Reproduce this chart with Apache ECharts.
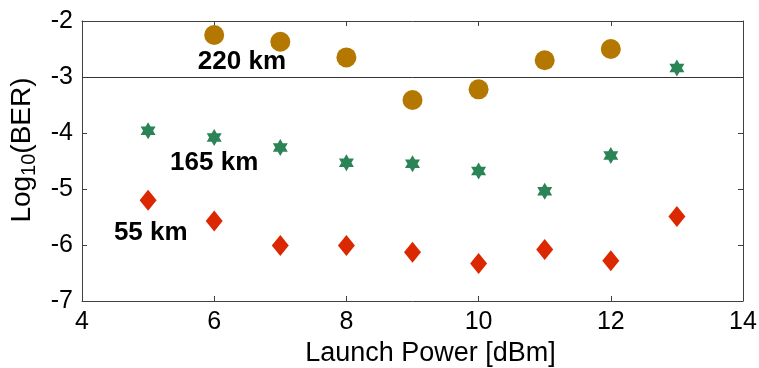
<!DOCTYPE html>
<html><head><meta charset="utf-8">
<script src="https://cdn.jsdelivr.net/npm/echarts@6/dist/echarts.min.js"></script>
<style>html,body{margin:0;padding:0;background:#fff}#c{width:759px;height:368px}</style>
</head><body><div id="c"></div>
<script>
const power220 = [6, 7, 8, 9, 10, 11, 12];
const ber220 = [-2.25, -2.37, -2.65, -3.41, -3.22, -2.70, -2.50];
const power165 = [5, 6, 7, 8, 9, 10, 11, 12, 13];
const ber165 = [-3.96, -4.08, -4.26, -4.53, -4.55, -4.68, -5.04, -4.40, -2.84];
const power55 = [5, 6, 7, 8, 9, 10, 11, 12, 13];
const ber55 = [-5.20, -5.57, -6.01, -6.01, -6.13, -6.33, -6.08, -6.28, -5.49];
const labels = [
  {text: '220 km', x: 6.42, y: -2.73},
  {text: '165 km', x: 6.0, y: -4.54},
  {text: '55 km', x: 5.04, y: -5.79}
];
const threshold = -3;
const FONT = 'Liberation Sans, Arial, sans-serif';
const zip = (a, b) => a.map((v, i) => [v, b[i]]);
const hexagram = 'path://M0,-1000L289,-500L866,-500L577,0L866,500L289,500L0,1000L-289,500L-866,500L-577,0L-866,-500L-289,-500Z';
const axisCol = '#404040';
const chart = echarts.init(document.getElementById('c'), null, {renderer: 'canvas'});
chart.setOption({
  animation: false,
  backgroundColor: '#fff',
  grid: {left: 82, right: 16, top: 21, bottom: 67, containLabel: false, outerBoundsMode: 'none'},
  xAxis: [{
    type: 'value', min: 4, max: 14, interval: 2, position: 'bottom',
    axisLine: {lineStyle: {color: axisCol, width: 1}},
    axisTick: {inside: true, length: 5, lineStyle: {color: axisCol}},
    axisLabel: {fontFamily: FONT, fontSize: 25, color: '#000', margin: 9},
    splitLine: {show: false},
    name: 'Launch Power [dBm]', nameLocation: 'middle', nameGap: 32,
    nameTextStyle: {fontFamily: FONT, fontSize: 27, color: '#000', padding: [0, 0, 0, 36]}
  }, {
    type: 'value', min: 4, max: 14, interval: 2, position: 'top',
    axisLine: {show: true, lineStyle: {color: axisCol, width: 1}},
    axisTick: {inside: true, length: 5, lineStyle: {color: axisCol}},
    axisLabel: {show: false}, splitLine: {show: false}
  }],
  yAxis: [{
    type: 'value', min: -7, max: -2, interval: 1, position: 'left',
    axisLine: {show: true, lineStyle: {color: axisCol, width: 1}},
    axisTick: {show: true, inside: true, length: 5, lineStyle: {color: axisCol}},
    axisLabel: {fontFamily: FONT, fontSize: 25, color: '#000', margin: 9},
    splitLine: {show: false},
    name: 'Log{sub|10}(BER)', nameLocation: 'middle', nameRotate: 90, nameGap: 42,
    nameTextStyle: {fontFamily: FONT, fontSize: 28, color: '#000', padding: [0, 0, 0, 22],
      rich: {sub: {fontFamily: FONT, fontSize: 20, color: '#000', padding: [16, 0, 0, 0]}}}
  }, {
    type: 'value', min: -7, max: -2, interval: 1, position: 'right',
    axisLine: {show: true, lineStyle: {color: axisCol, width: 1}},
    axisTick: {show: true, inside: true, length: 5, lineStyle: {color: axisCol}},
    axisLabel: {show: false}, splitLine: {show: false}
  }],
  series: [{
    name: '220 km', type: 'scatter', data: zip(power220, ber220),
    symbol: 'circle', symbolSize: 20, itemStyle: {color: '#b47800', opacity: 1},
    markLine: {silent: true, symbol: 'none', label: {show: false},
      lineStyle: {color: '#333', width: 1, type: 'solid', opacity: 1}, data: [{yAxis: threshold}]}
  }, {
    name: '165 km', type: 'scatter', data: zip(power165, ber165),
    symbol: hexagram, symbolSize: [15, 17], itemStyle: {color: '#2a8455', opacity: 1}
  }, {
    name: '55 km', type: 'scatter', data: zip(power55, ber55),
    symbol: 'diamond', symbolSize: [17, 21], itemStyle: {color: '#dc2800', opacity: 1}
  }, {
    name: 'labels', type: 'scatter', data: labels.map(l => ({value: [l.x, l.y], name: l.text})),
    symbolSize: 1, silent: true, itemStyle: {opacity: 0},
    label: {show: true, position: 'inside', formatter: p => p.name, opacity: 1,
      fontFamily: FONT, fontSize: 26, fontWeight: 'bold', color: '#000'}
  }]
});
</script></body></html>
